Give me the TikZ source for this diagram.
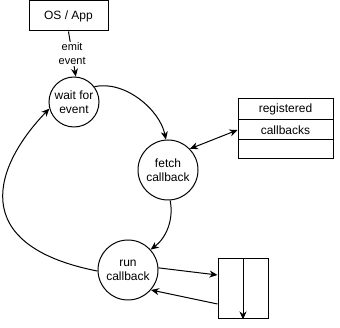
\documentclass[tikz,border=0pt]{standalone}
\usepackage{fontspec}
\setmainfont{Liberation Sans}
\usetikzlibrary{arrows.meta}
\begin{document}
\begin{tikzpicture}[x=1pt,y=-1pt,
  stroke/.style={draw=black, line width=1pt},
  state/.style={stroke, circle, inner sep=0pt, minimum size=#1, align=center, font=\fontsize{12}{14}\selectfont},
  box/.style={stroke, rectangle, inner sep=0pt, font=\fontsize{12}{14}\selectfont},
  conn/.style={line width=1pt, -{Stealth[length=8pt,width=7pt,inset=2.5pt]}},
  biconn/.style={line width=1pt, {Stealth[length=8pt,width=7pt,inset=2.5pt]}-{Stealth[length=8pt,width=7pt,inset=2.5pt]}},
  lbl/.style={fill=white, inner sep=0.5pt, align=center, font=\fontsize{11}{14}\selectfont}
]
\useasboundingbox (0,0) rectangle (340,328);

\node[box, minimum width=79pt, minimum height=30pt] (os) at (68.5,16) {OS / App};
\node[state=50pt] (wait) at (74,102) {wait for\\event};
\node[state=60pt] (fetch) at (168,170) {fetch\\callback};
\node[state=60pt] (run) at (128,270) {run\\callback};

\node[box, minimum width=95pt, minimum height=21pt] (r1) at (285.5,109.5) {registered};
\node[box, minimum width=95pt, minimum height=20pt] (r2) at (285.5,130) {callbacks};
\node[box, minimum width=95pt, minimum height=19pt] (r3) at (285.5,149.5) {};

\node[box, minimum width=50pt, minimum height=60pt] (stack) at (243,289) {};

\draw[conn] (os.south) -- node[lbl] {emit\\event} (wait.86);
\draw[conn] (wait.37) .. controls (125,80) and (160,110) .. (fetch.94);
\draw[biconn] (fetch.44) -- (r2.west);
\draw[conn] (fetch.-86) .. controls (174,220) and (166,238) .. (run.42);
\draw[conn] (run.4) -- ([yshift=14pt]stack.west);
\draw[conn] ([yshift=-15pt]stack.west) -- (run.-41);
\draw[conn] (run.182) .. controls (-35,245) and (-5,165) .. (wait.195);
\draw[conn] (stack.north) -- (stack.south);
\end{tikzpicture}
\end{document}
